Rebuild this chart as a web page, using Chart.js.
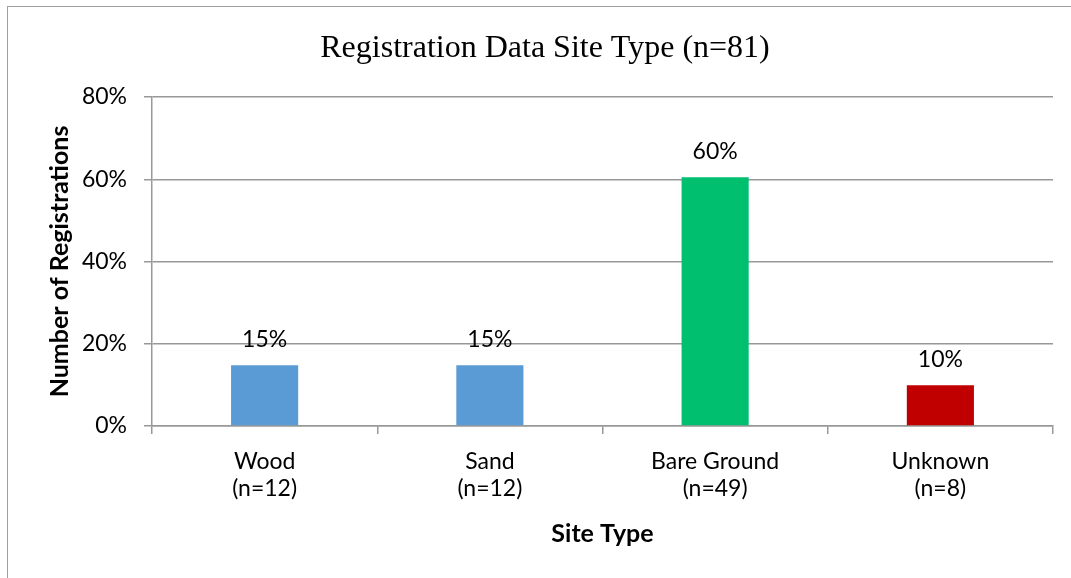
<!DOCTYPE html>
<html>
<head>
<meta charset="utf-8">
<script src="https://cdn.jsdelivr.net/npm/chart.js@4.4.1/dist/chart.umd.min.js"></script>
<style>
  html, body { margin: 0; padding: 0; background: #fff; overflow: hidden; }
  #frame { position: absolute; left: 7px; top: 6px; border: 1px solid #a0a0a0; background: #fff; }
  canvas { display: block; }
</style>
</head>
<body>
<div id="frame"><canvas id="siteChart" width="1074" height="590"></canvas></div>
<script>
// Registration data by site type
const categories = [['Wood', '(n=12)'], ['Sand', '(n=12)'], ['Bare Ground', '(n=49)'], ['Unknown', '(n=8)']];
const shares = [14.8, 14.8, 60.5, 9.9];
const shareLabels = ['15%', '15%', '60%', '10%'];
const barColors = ['#5B9BD5', '#5B9BD5', '#00BF6F', '#C00000'];
const yTicks = [0, 20, 40, 60, 80];

const gridColor = '#989898';
const baseFont = 'Lato';
const rightPad = 29;

// values above the bars
const barValueLabels = {
    id: 'barValueLabels',
    afterLayout(chart) {
        // centre the title over the whole frame, not the padded area
        const t = chart.titleBlock;
        if (t) { t.right += rightPad; t.width += rightPad; }
    },
    afterDatasetsDraw(chart) {
        const ctx = chart.ctx;
        const meta = chart.getDatasetMeta(0);
        ctx.save();
        ctx.font = '23px ' + baseFont;
        ctx.fillStyle = '#000';
        ctx.textAlign = 'center';
        ctx.textBaseline = 'middle';
        meta.data.forEach((bar, i) => {
            ctx.fillText(shareLabels[i], bar.x, bar.y - 26);
        });
        ctx.restore();
    }
};

const ctx = document.getElementById('siteChart').getContext('2d');
new Chart(ctx, {
    type: 'bar',
    data: {
        labels: categories,
        datasets: [{
            data: shares,
            backgroundColor: barColors,
            barPercentage: 0.298,
            categoryPercentage: 1.0,
        }]
    },
    options: {
        responsive: false,
        maintainAspectRatio: false,
        animation: false,
        layout: { padding: { left: 0, right: rightPad, top: 0, bottom: 0 } },
        plugins: {
            legend: { display: false },
            tooltip: { enabled: false },
            title: {
                display: true,
                text: 'Registration Data Site Type (n=81)',
                color: '#000',
                font: { family: 'Liberation Serif', size: 32, weight: 'normal' },
                padding: { top: 22, bottom: 29.6 }
            }
        },
        scales: {
            x: {
                grid: { display: true, drawOnChartArea: false, drawTicks: true, tickLength: 8, color: gridColor, lineWidth: 1.5 },
                border: { display: true, color: gridColor, width: 1.5 },
                ticks: { color: '#000', font: { family: baseFont, size: 23, lineHeight: 1.17 }, padding: 14.5, maxRotation: 0 },
                title: {
                    display: true,
                    text: 'Site Type',
                    color: '#000',
                    font: { family: baseFont, size: 25, weight: 'bold' },
                    padding: { top: 0, bottom: 48 }
                },
                afterFit(scale) { scale.height = 171; }
            },
            y: {
                min: 0,
                max: 80,
                afterBuildTicks(scale) { scale.ticks = yTicks.map(v => ({ value: v })); },
                grid: { color: gridColor, lineWidth: 1.5, tickLength: 8 },
                border: { display: true, color: gridColor, width: 1.5 },
                ticks: { color: '#000', font: { family: baseFont, size: 23 }, padding: 17, callback: v => v + '%' },
                title: {
                    display: true,
                    text: 'Number of Registrations',
                    color: '#000',
                    font: { family: baseFont, size: 25, weight: 'bold' },
                    padding: { top: 37, bottom: 0 }
                },
                afterFit(scale) { scale.width = 144; }
            }
        }
    },
    plugins: [barValueLabels]
});
</script>
</body>
</html>
